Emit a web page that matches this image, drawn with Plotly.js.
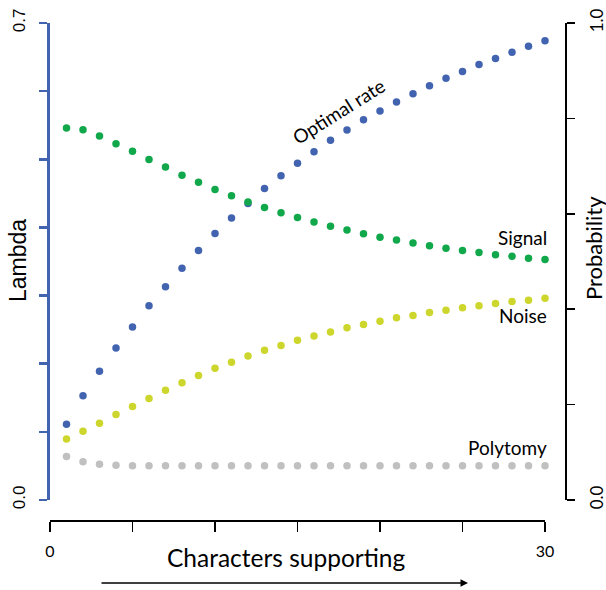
<!DOCTYPE html>
<html>
<head>
<meta charset="utf-8">
<script src="https://cdn.plot.ly/plotly-3.0.1.min.js"></script>
<style>html,body{margin:0;padding:0;background:#fff;}#chart{width:606px;height:590px;}</style>
</head>
<body>
<div id="chart"></div>
<script>
const characters = [1,2,3,4,5,6,7,8,9,10,11,12,13,14,15,16,17,18,19,20,21,22,23,24,25,26,27,28,29,30];
const optimalRate = [0.111,0.153,0.189,0.223,0.254,0.285,0.313,0.340,0.366,0.391,0.414,0.435,0.457,0.476,0.494,0.511,0.528,0.543,0.558,0.571,0.584,0.596,0.608,0.619,0.629,0.639,0.648,0.657,0.666,0.674];
const signal = [0.780,0.776,0.763,0.747,0.731,0.714,0.698,0.681,0.666,0.651,0.638,0.625,0.613,0.602,0.592,0.583,0.574,0.566,0.558,0.551,0.545,0.539,0.533,0.528,0.523,0.519,0.514,0.511,0.507,0.504];
const noise = [0.128,0.144,0.161,0.179,0.196,0.213,0.230,0.246,0.261,0.276,0.289,0.302,0.314,0.324,0.335,0.344,0.352,0.361,0.368,0.375,0.382,0.387,0.393,0.398,0.403,0.407,0.412,0.416,0.419,0.423];
const polytomy = [0.091,0.080,0.075,0.073,0.072,0.072,0.072,0.072,0.072,0.072,0.072,0.072,0.072,0.072,0.072,0.072,0.072,0.072,0.072,0.072,0.072,0.072,0.072,0.072,0.072,0.072,0.072,0.072,0.072,0.072];
const xTickVals = [0,5,10,15,20,25,30];
const xTickText = ['0','','','','','','30'];
const lambdaTickVals = [0,0.1,0.2,0.3,0.4,0.5,0.6,0.7];
const lambdaTickText = ['0.0','','','','','','','0.7'];
const probTickVals = [0,0.2,0.4,0.6,0.8,1.0];
const probTickText = ['0.0','','','','','1.0'];

const BLUE = '#4264b0', GREEN = '#10a84a', YELLOW = '#cdd62c', GRAY = '#c0c0c0';
const TXT = 'Lato, "Open Sans", sans-serif';
const ARI = '"Liberation Sans", Arial, sans-serif';

// paper-coordinate helpers (plot area: x 48..565 px, y 23..520 px)
const px = v => (v - 48) / 517;
const py = v => (520 - v) / 497;

function pts(y, color, yaxis, name) {
  return {x: characters, y: y, type: 'scatter', mode: 'markers', name: name,
    yaxis: yaxis, cliponaxis: false, hoverinfo: 'skip',
    marker: {color: color, size: 7.5, line: {width: 0}}};
}

const data = [
  pts(polytomy, GRAY, 'y2', 'Polytomy'),
  pts(noise, YELLOW, 'y2', 'Noise'),
  pts(signal, GREEN, 'y2', 'Signal'),
  pts(optimalRate, BLUE, 'y', 'Optimal rate')
];

const layout = {
  width: 606, height: 590,
  margin: {l: 48, r: 41, t: 23, b: 70, pad: 0},
  paper_bgcolor: '#fff', plot_bgcolor: 'rgba(0,0,0,0)',
  showlegend: false,
  xaxis: {
    domain: [2/517, 497/517], range: [0, 30], anchor: 'free', position: 0,
    showgrid: false, zeroline: false, showline: true, linecolor: '#000', linewidth: 1.5,
    ticks: 'outside', ticklen: 10, tickwidth: 1.5, tickcolor: '#000',
    tickvals: xTickVals, ticktext: xTickText, ticklabelstandoff: 6,
    tickfont: {family: TXT, size: 16, color: '#000'}
  },
  yaxis: {
    domain: [20/497, 1], range: [0, 0.7], anchor: 'free', position: 0,
    showgrid: false, zeroline: false, showline: true, linecolor: BLUE, linewidth: 3,
    ticks: 'outside', ticklen: 8, tickwidth: 2.5, tickcolor: BLUE,
    tickvals: lambdaTickVals, ticktext: lambdaTickText, tickangle: -90,
    ticklabelstandoff: 7,
    tickfont: {family: ARI, size: 17, color: '#000'}
  },
  yaxis2: {
    domain: [20/497, 1], range: [0, 1.0], anchor: 'free', position: 1, overlaying: 'y', side: 'right',
    showgrid: false, zeroline: false, showline: true, linecolor: '#000', linewidth: 1.5,
    ticks: 'outside', ticklen: 8, tickwidth: 1.5, tickcolor: '#000',
    tickvals: probTickVals, ticktext: probTickText, tickangle: -90,
    ticklabelstandoff: 8,
    tickfont: {family: TXT, size: 17, color: '#000'}
  },
  annotations: [
    {xref: 'paper', yref: 'paper', x: px(18), y: py(261), text: 'Lambda', showarrow: false,
     textangle: -90, font: {family: ARI, size: 23, color: '#000'}, xanchor: 'center', yanchor: 'middle'},
    {xref: 'paper', yref: 'paper', x: px(594), y: py(248), text: 'Probability', showarrow: false,
     textangle: -90, font: {family: TXT, size: 22, color: '#000'}, xanchor: 'center', yanchor: 'middle'},
    {xref: 'paper', yref: 'paper', x: px(286), y: py(557), text: 'Characters supporting', showarrow: false,
     font: {family: TXT, size: 24.5, color: '#000'}, xanchor: 'center', yanchor: 'middle'},
    {xref: 'paper', yref: 'paper', x: px(338), y: py(111), text: 'Optimal rate', showarrow: false, textangle: -32,
     font: {family: TXT, size: 19, color: '#000'}, xanchor: 'center', yanchor: 'middle'},
    {xref: 'paper', yref: 'paper', x: px(549), y: py(238), text: 'Signal', showarrow: false,
     font: {family: TXT, size: 19, color: '#000'}, xanchor: 'right', yanchor: 'middle'},
    {xref: 'paper', yref: 'paper', x: px(549), y: py(315), text: 'Noise', showarrow: false,
     font: {family: TXT, size: 19, color: '#000'}, xanchor: 'right', yanchor: 'middle'},
    {xref: 'paper', yref: 'paper', x: px(549), y: py(447), text: 'Polytomy', showarrow: false,
     font: {family: TXT, size: 19, color: '#000'}, xanchor: 'right', yanchor: 'middle'},
    {xref: 'paper', yref: 'paper', x: px(468), y: py(583), text: '', showarrow: true,
     axref: 'pixel', ayref: 'pixel', ax: -368, ay: 0, arrowhead: 2, arrowsize: 1, arrowwidth: 1.5,
     arrowcolor: '#000', standoff: 0, startstandoff: 0}
  ]
};

Plotly.newPlot('chart', data, layout, {displayModeBar: false, staticPlot: true});
</script>
</body>
</html>
